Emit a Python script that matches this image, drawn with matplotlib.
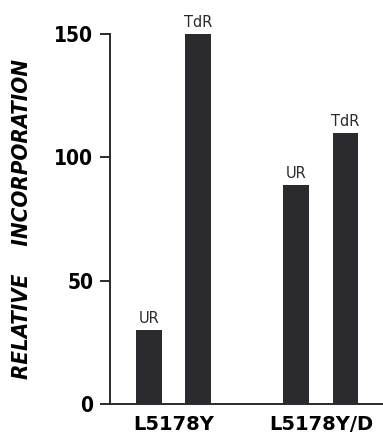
import matplotlib.pyplot as plt
import numpy as np

# relative incorporation
groups = ['L5178Y', 'L5178Y/D']
bar_labels = ['UR', 'TdR', 'UR', 'TdR']
values = [30, 150, 89, 110]
positions = [0, 1, 3, 4]
group_pos = [0.5, 3.5]
yticks = [0, 50, 100, 150]

ink = '#2b2a2e'

fig = plt.figure(figsize=(3.83, 4.34), dpi=100)
ax = fig.add_axes([0.287, 0.069, 0.713, 0.8525])

ax.bar(positions, values, width=0.53, color=ink)
for x, v, lab in zip(positions, values, bar_labels):
  ax.text(x, v + 1.5, lab, ha='center', va='bottom', fontsize=10.5, color=ink)

ax.set_xlim(-0.806, 4.765)
ax.set_ylim(0, 150)
ax.spines['top'].set_visible(False)
ax.spines['right'].set_visible(False)
ax.spines['left'].set_linewidth(1.4)
ax.spines['bottom'].set_linewidth(1.4)
ax.spines['left'].set_color(ink)
ax.spines['bottom'].set_color(ink)

ax.set_yticks(yticks)
ax.set_yticklabels([str(t) for t in yticks], fontsize=15, fontweight='bold',
                   fontstretch='condensed')
ax.tick_params(axis='y', length=7, width=1.4, color=ink, pad=5)
ax.set_xticks(group_pos)
ax.set_xticklabels(groups, fontsize=14, fontweight='bold')
ax.tick_params(axis='x', length=0, pad=8)

ax.set_ylabel('RELATIVE    INCORPORATION', fontsize=16, fontweight='bold',
              fontstyle='italic', fontstretch='condensed', labelpad=16)

plt.savefig('out.png', dpi=100)
